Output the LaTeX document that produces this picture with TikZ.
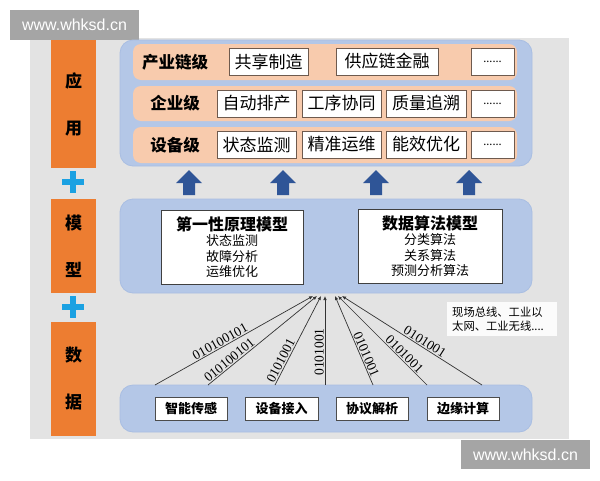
\documentclass[tikz,border=0pt]{standalone}
\usepackage{fontspec}
\setmainfont{Noto Sans CJK SC}
\newfontfamily\wmfont{Liberation Sans}
\newfontfamily\digitfont{Liberation Serif}
\usetikzlibrary{arrows.meta}
\definecolor{bggray}{HTML}{E3E3E3}
\definecolor{orng}{HTML}{ED7D31}
\definecolor{peach}{HTML}{F8CBAD}
\definecolor{lblue}{HTML}{B4C7E7}
\definecolor{lblueb}{HTML}{A9BEE2}
\definecolor{dblue}{HTML}{2F5597}
\definecolor{plusc}{HTML}{1BA1E2}
\definecolor{brownb}{HTML}{6E5A4E}
\definecolor{wmgray}{HTML}{A5A5A5}
\tikzset{
  colbox/.style={fill=orng, inner sep=0pt, minimum width=45pt, align=center,
    font=\bfseries\fontsize{17}{47}\selectfont},
  container/.style={fill=lblue, draw=lblueb, line width=0.8pt, rounded corners=13pt, inner sep=0pt, minimum width=412pt},
  rowbar/.style={fill=peach, rounded corners=8pt, inner sep=0pt, minimum width=384pt},
  rowlabel/.style={font=\bfseries\fontsize{16.5}{19}\selectfont, inner sep=0pt},
  appbox/.style={draw=brownb, fill=white, line width=1pt, inner sep=0pt, minimum height=27pt,
    font=\fontsize{17}{19}\selectfont},
  modelbox/.style={draw=black!75, fill=white, line width=0.9pt, inner sep=0pt, minimum height=74pt,
    align=center, font=\fontsize{13}{15.5}\selectfont},
  databox/.style={draw=black!70, fill=white, line width=1pt, inner sep=0pt, minimum height=23pt,
    minimum width=72pt, font=\bfseries\fontsize{13}{15}\selectfont},
  uparrow/.style={fill=dblue},
  plussign/.style={draw=plusc, line width=6.5pt},
  feed/.style={draw=black!80, line width=0.7pt, -{Latex[length=4pt,width=3.5pt]}},
  bits/.style={sloped, above, font=\digitfont\fontsize{13.5}{13.5}\selectfont, inner sep=1pt},
  wm/.style={fill=wmgray, text=white, inner sep=0pt, font=\wmfont\fontsize{16}{18}\selectfont},
}
\begin{document}
\begin{tikzpicture}[x=1pt,y=-1pt]
\useasboundingbox (0,0) rectangle (600,480);
% background
\fill[bggray] (30,38) rectangle (569,439);
% watermarks
\node[wm, minimum width=129pt, minimum height=30pt] (wm1) at (74.5,25) {www.whksd.cn};
\node[wm, minimum width=129pt, minimum height=29pt] (wm2) at (525.5,454.5) {www.whksd.cn};
% left column
\node[colbox, minimum height=128pt] (colapp) at (73.5,104) {应\\用};
\node[colbox, minimum height=94pt] (colmod) at (73.5,246) {模\\型};
\node[colbox, minimum height=114pt] (coldat) at (73.5,379) {数\\据};
\path[plussign] (62,182) -- (84,182) (73,171) -- (73,193);
\path[plussign] (62,307) -- (84,307) (73,296) -- (73,318);
% application container
\node[container, minimum height=126pt] (appc) at (326,103) {};
\node[rowbar, minimum height=36pt] (row1) at (325,62) {};
\node[rowbar, minimum height=35pt] (row2) at (325,103.5) {};
\node[rowbar, minimum height=36pt] (row3) at (325,145) {};
\node[rowlabel] (lab1) at (175,62) {产业链级};
\node[rowlabel] (lab2) at (175,103.5) {企业级};
\node[rowlabel] (lab3) at (175,145) {设备级};
\node[appbox, minimum width=79pt] (a11) at (268.5,61.5) {共享制造};
\node[appbox, minimum width=102pt] (a12) at (387,61.5) {供应链金融};
\node[appbox, minimum width=43pt] (a13) at (492.5,61.5) {\fontsize{11}{11}\selectfont ......};
\node[appbox, minimum width=79pt] (a21) at (256.5,103.5) {自动排产};
\node[appbox, minimum width=79pt] (a22) at (341.5,103.5) {工序协同};
\node[appbox, minimum width=80pt] (a23) at (426,103.5) {质量追溯};
\node[appbox, minimum width=43pt] (a24) at (492.5,103.5) {\fontsize{11}{11}\selectfont ......};
\node[appbox, minimum width=79pt] (a31) at (256.5,144.5) {状态监测};
\node[appbox, minimum width=79pt] (a32) at (341.5,144.5) {精准运维};
\node[appbox, minimum width=80pt] (a33) at (426,144.5) {能效优化};
\node[appbox, minimum width=43pt] (a34) at (492.5,144.5) {\fontsize{11}{11}\selectfont ......};
% up arrows
\foreach \cx in {189,283,376,469}{
  \fill[uparrow] (\cx,170) -- (\cx+13,183) -- (\cx+6,183) -- (\cx+6,195) -- (\cx-6,195) -- (\cx-6,183) -- (\cx-13,183) -- cycle;
}
% model container
\node[container, minimum height=94pt] (modc) at (326,246) {};
\node[modelbox, minimum width=142pt] (m1) at (232,247) {{\bfseries\fontsize{16}{19}\selectfont 第一性原理模型}\\状态监测\\故障分析\\运维优化};
\node[modelbox, minimum width=144pt] (m2) at (430,246) {{\bfseries\fontsize{16}{19}\selectfont 数据算法模型}\\分类算法\\关系算法\\预测分析算法};
% data container
\node[container, minimum height=47pt] (datc) at (326,408.5) {};
\node[databox] (d1) at (191,408.5) {智能传感};
\node[databox, minimum width=73pt] (d2) at (281.5,408.5) {设备接入};
\node[databox] (d3) at (372,408.5) {协议解析};
\node[databox] (d4) at (463,408.5) {边缘计算};
% note
\node[fill=white!97!gray, minimum width=110pt, minimum height=34pt, inner sep=0pt] (note) at (502,319) {};
\node[anchor=west, align=left, inner sep=0pt, font=\fontsize{11.3}{14}\selectfont] (notetext) at (452,319.5) {现场总线、工业以\\太网、工业无线....};
% feed lines
\coordinate (b1) at (155,385); \coordinate (t1) at (313,296);
\coordinate (b2) at (208,385); \coordinate (t2) at (317,296);
\coordinate (b3) at (275,385); \coordinate (t3) at (321,296);
\coordinate (b4) at (325,385); \coordinate (t4) at (325,296);
\coordinate (b5) at (373,385); \coordinate (t5) at (335,296);
\coordinate (b6) at (427,385); \coordinate (t6) at (338,296);
\coordinate (b7) at (482,385); \coordinate (t7) at (342,296);
\draw[feed] (b1) -- node[bits, pos=0.43] {010100101} (t1);
\draw[feed] (b2) -- node[bits, pos=0.23] {010100101} (t2);
\draw[feed] (b3) -- node[bits, pos=0.24] {0101001} (t3);
\draw[feed] (b4) -- node[bits, pos=0.37] {0101001} (t4);
\draw[feed] (b5) -- node[bits, pos=0.32] {0101001} (t5);
\draw[feed] (b6) -- node[bits, pos=0.3] {0101001} (t6);
\draw[feed] (b7) -- node[bits, pos=0.43] {0101001} (t7);
\end{tikzpicture}
\end{document}
